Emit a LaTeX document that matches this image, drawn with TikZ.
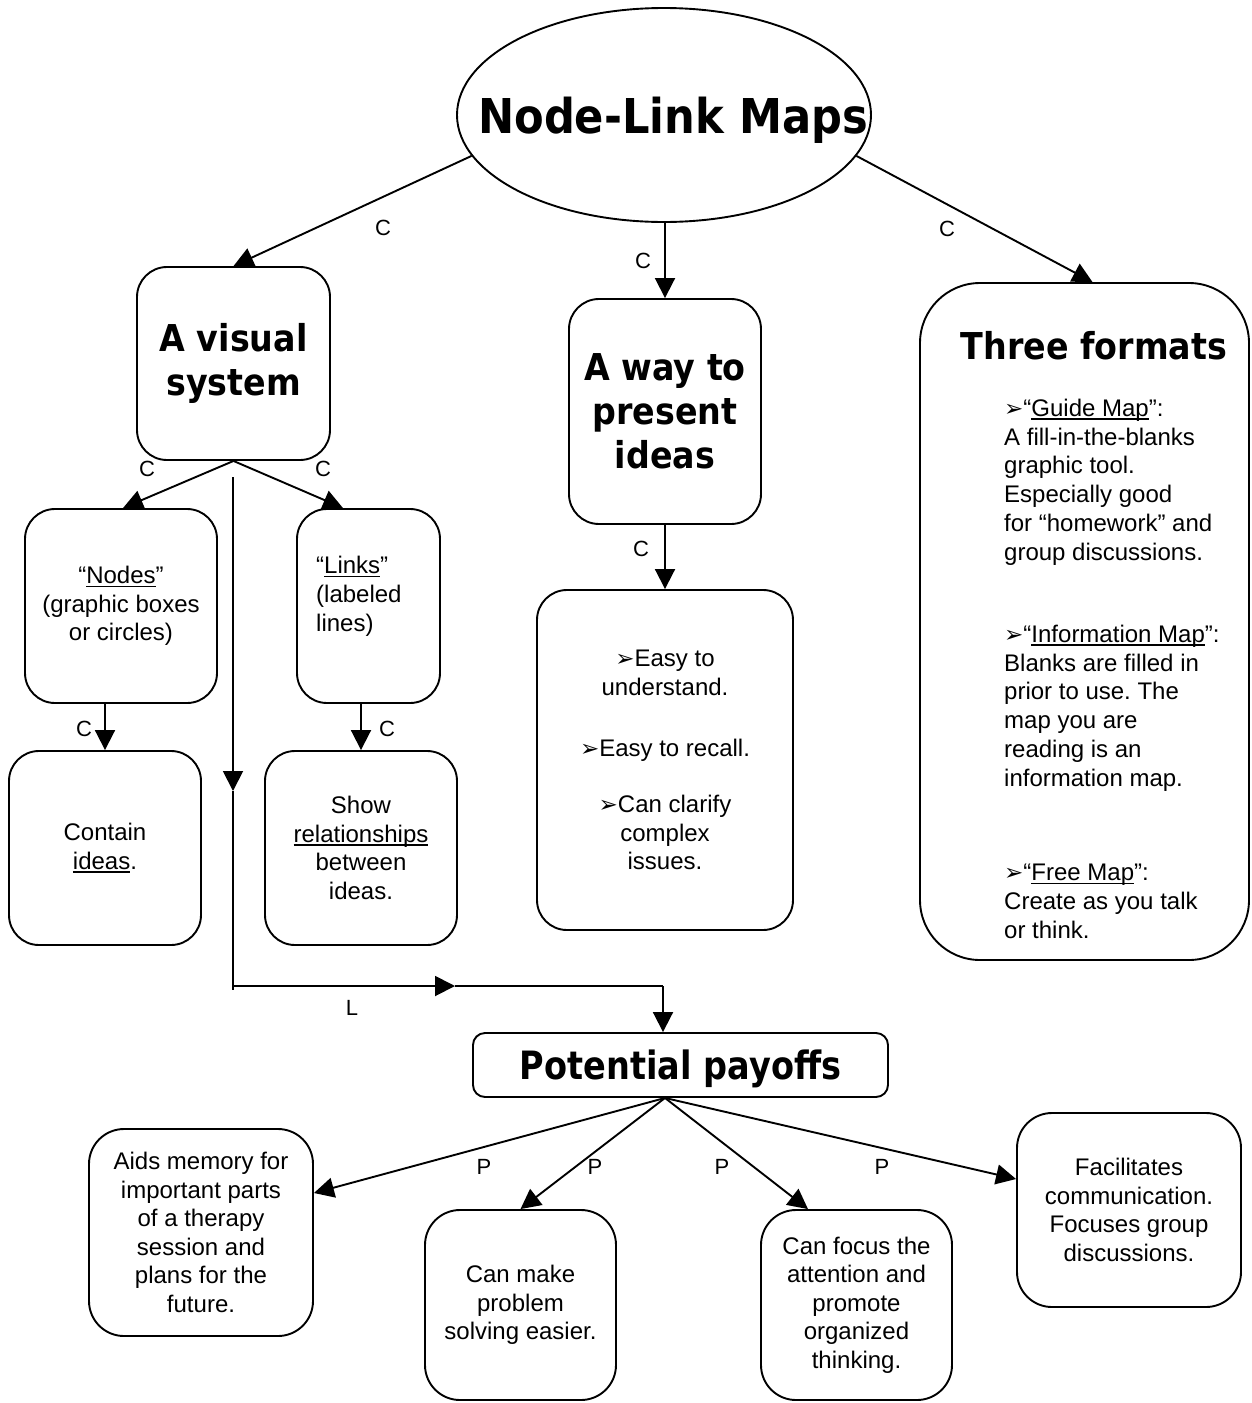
\documentclass[tikz,border=0pt]{standalone}
\usepackage{fontspec}
\setmainfont{Liberation Sans}
\newfontfamily\headfont[FakeStretch=0.9]{DejaVu Sans}
\newfontfamily\payfont[FakeStretch=0.86]{DejaVu Sans}
\newfontfamily\symfont{DejaVu Sans}
\usetikzlibrary{shapes.geometric,arrows.meta}
\frenchspacing
\newcommand\ul[1]{\leavevmode\setbox0\hbox{#1}\rlap{\lower3.5pt\hbox{\vrule width\wd0 height1.4pt depth0pt}}\box0}
\newcommand\bul{{\symfont\fontsize{23}{20}\selectfont ➢}}
\newcommand\bodyfont{\fontsize{24}{28.6}\selectfont}
\tikzset{
  box/.style={draw, line width=1.9pt, rounded corners=30pt, inner sep=0pt, align=center, font=\bodyfont},
  head/.style={font=\headfont\bfseries\fontsize{37}{44}\selectfont},
  txt/.style={inner sep=0pt, align=left, font=\fontsize{24}{28.8}\selectfont},
  lab/.style={inner sep=0pt, font=\fontsize{22}{24}\selectfont},
  conn/.style={line width=1.9pt, -{Triangle[length=20pt,width=20pt]}},
  plain/.style={line width=1.9pt}
}
\begin{document}
\begin{tikzpicture}[x=1pt,y=-1pt]
\useasboundingbox (0,0) rectangle (1252,1403);
% nodes
\node[draw, ellipse, line width=1.9pt, minimum width=414pt, minimum height=214pt, inner sep=0pt] (top) at (664,115) {};
\node[inner sep=0pt, text depth=0pt, font=\headfont\bfseries\fontsize{48}{56}\selectfont] (toptxt) at ([xshift=9pt]top.center) {Node-Link Maps};
\node[box, head, minimum width=193pt, minimum height=193pt] (vis) at (233.5,363.5) {A visual\\system};
\node[box, head, minimum width=192pt, minimum height=225pt] (way) at (665,411.5) {A way to\\present\\ideas};
\node[box, rounded corners=60pt, minimum width=329pt, minimum height=677pt] (fmt) at (1084.5,621.5) {};
\node[head, inner sep=0pt] (fmth) at (1094,346) {Three formats};
\node[txt, anchor=west] (fmt1) at (1004,482) {\bul“\ul{Guide Map}”:\\A fill-in-the-blanks\\graphic tool.\\Especially good\\for “homework” and\\group discussions.};
\node[txt, anchor=west] (fmt2) at (1004,708) {\bul“\ul{Information Map}”:\\Blanks are filled in\\prior to use. The\\map you are\\reading is an\\information map.};
\node[txt, anchor=west] (fmt3) at (1004,901.5) {\bul“\ul{Free Map}”:\\Create as you talk\\or think.};

\node[box, minimum width=192pt, minimum height=194pt] (nodes) at (121,606) {“\ul{Nodes}”\\(graphic boxes\\or circles)};
\node[box, minimum width=143pt, minimum height=194pt] (links) at (368.5,606) {};
\node[txt, anchor=west] (linkst) at (316,596) {“\ul{Links}”\\(labeled\\lines)};
\node[box, minimum width=192pt, minimum height=194pt] (contain) at (105,848) {Contain\\\ul{ideas}.};
\node[box, minimum width=192pt, minimum height=194pt] (show) at (361,848) {Show\\\ul{relationships}\\between\\ideas.};
\node[box, minimum width=256pt, minimum height=340pt] (easy) at (665,760) {\bul Easy to\\understand.\\[33pt]\bul Easy to recall.\\[27pt]\bul Can clarify\\complex\\issues.};

\node[box, rounded corners=12pt, minimum width=415pt, minimum height=64pt, text depth=0pt,
      font=\payfont\bfseries\fontsize{39}{44}\selectfont] (pay) at (680.5,1065) {Potential payoffs};
\node[box, rounded corners=35pt, minimum width=224pt, minimum height=207pt] (aids) at (201,1232.5) {Aids memory for\\important parts\\of a therapy\\session and\\plans for the\\future.};
\node[box, rounded corners=35pt, minimum width=191pt, minimum height=190pt] (make) at (520.5,1305) {Can make\\problem\\solving easier.};
\node[box, rounded corners=35pt, minimum width=191pt, minimum height=190pt] (focus) at (856.5,1305) {Can focus the\\attention and\\promote\\organized\\thinking.};
\node[box, rounded corners=35pt, minimum width=224pt, minimum height=194pt] (fac) at (1129,1210) {Facilitates\\communication.\\Focuses group\\discussions.};

% connectors
\draw[conn] (top.192) -- (vis.north);
\draw[conn] (way.north |- top.south) -- (way.north);
\draw[conn] (top.348) -- ([xshift=8pt]fmt.north);
\draw[conn] (vis.south) -- ([xshift=2pt]nodes.north);
\draw[conn] (vis.south) -- ([xshift=-25.5pt]links.north);
\draw[conn] (contain.north |- nodes.south) -- (contain.north);
\draw[conn] (show.north |- links.south) -- (show.north);
\draw[conn] (way.south) -- (easy.north);

% L link
\coordinate (ls) at (233,477);
\coordinate (lm) at (233,791);
\coordinate (le) at (233,990);
\coordinate (lc) at (233,986);
\coordinate (lh) at (455,986);
\coordinate (lt) at (663,986);
\draw[conn] (ls) -- (lm);
\draw[plain] (lm) -- (le);
\draw[conn] (lc) -- (lh);
\draw[plain] (lh) -- (lt);
\draw[conn] (lt) -- (lt |- pay.north);

% payoffs fan
\coordinate (po) at ([xshift=-15.5pt]pay.south);
\draw[conn] (po) -- ([yshift=39.5pt]aids.east);
\draw[conn] (po) -- (make.north);
\draw[conn] (po) -- ([xshift=-48.5pt]focus.north);
\draw[conn] (po) -- ([yshift=31pt]fac.west);

% labels
\node[lab] (c1) at (383,228) {C};
\node[lab] (c2) at (643,261) {C};
\node[lab] (c3) at (947,229) {C};
\node[lab] (c4) at (147,469) {C};
\node[lab] (c5) at (323,469) {C};
\node[lab] (c6) at (84,729) {C};
\node[lab] (c7) at (387,729) {C};
\node[lab] (c8) at (641,549) {C};
\node[lab] (l1) at (352,1008) {L};
\node[lab] (p1) at (484,1167) {P};
\node[lab] (p2) at (595,1167) {P};
\node[lab] (p3) at (722,1167) {P};
\node[lab] (p4) at (882,1167) {P};
\end{tikzpicture}
\end{document}
